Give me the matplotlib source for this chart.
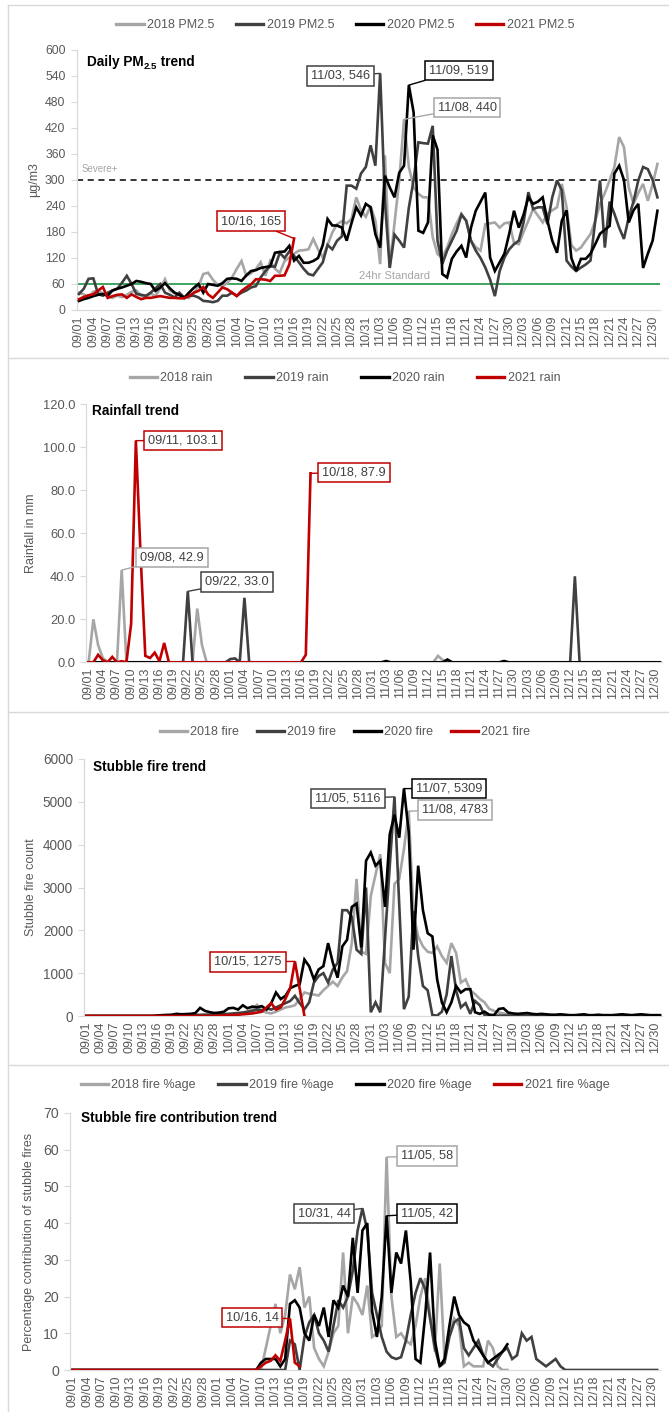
import matplotlib
matplotlib.use('Agg')
import matplotlib.pyplot as plt
from matplotlib import font_manager as fm
from matplotlib.lines import Line2D
import pandas as pd

# ---------------- categories ----------------
dates = [d.strftime('%m/%d') for d in pd.date_range('2021-09-01', '2021-12-31')]
tick_idx = list(range(0, 122, 3))
years = ['2018', '2019', '2020', '2021']

# ---------------- PM2.5 (ug/m3) ----------------
pm_2018 = [40, 36, 30, 42, 45, 38, 32, 28, 33, 30,
           35, 42, 45, 33, 30, 38, 32, 50, 71, 45,
           38, 33, 30, 28, 38, 55, 83, 86, 70, 58,
           55, 62, 75, 95, 113, 79, 85, 94, 110, 79,
           113, 95, 86, 113, 121, 130, 137, 138, 140, 164,
           140, 121, 150, 179, 198, 205, 200, 210, 260, 230,
           215, 240, 206, 106, 357, 98, 200, 300, 440, 330,
           283, 268, 260, 260, 168, 129, 121, 144, 175, 200,
           222, 206, 160, 145, 137, 198, 200, 202, 190, 200,
           202, 155, 152, 180, 206, 233, 218, 202, 222, 230,
           237, 291, 237, 150, 137, 144, 160, 175, 206, 245,
           270, 299, 330, 399, 376, 283, 245, 270, 291, 252,
           290, 337]
pm_2019 = [37, 49, 72, 73, 37, 33, 40, 45, 49, 63,
           79, 60, 37, 35, 33, 40, 50, 60, 40, 35,
           29, 40, 29, 33, 33, 29, 21, 20, 18, 21,
           33, 33, 40, 33, 40, 45, 52, 55, 75, 90,
           101, 100, 132, 120, 135, 125, 110, 95, 83, 80,
           95, 110, 150, 140, 160, 170, 287, 287, 280, 315,
           330, 380, 333, 546, 250, 97, 174, 160, 144, 236,
           300, 387, 385, 384, 425, 160, 106, 137, 160, 183,
           220, 206, 160, 137, 120, 98, 70, 32, 90, 121,
           140, 152, 160, 202, 272, 233, 237, 237, 198, 260,
           299, 276, 114, 100, 90, 98, 105, 114, 206, 299,
           144, 250, 222, 190, 164, 214, 250, 299, 330, 325,
           300, 260]
pm_2020 = [21, 25, 28, 32, 35, 37, 33, 45, 49, 52,
           56, 60, 67, 65, 62, 60, 44, 52, 62, 50,
           40, 35, 28, 40, 51, 60, 40, 60, 58, 56,
           62, 72, 73, 72, 67, 80, 90, 92, 97, 99,
           101, 132, 134, 135, 148, 114, 125, 109, 109, 113,
           120, 150, 210, 195, 195, 190, 160, 200, 237, 218,
           245, 237, 175, 144, 310, 283, 260, 317, 333, 519,
           456, 183, 178, 202, 403, 370, 83, 75, 118, 135,
           148, 121, 190, 229, 250, 271, 121, 90, 110, 130,
           176, 229, 190, 220, 260, 245, 250, 260, 206, 160,
           132, 206, 230, 120, 90, 118, 118, 130, 152, 176,
           185, 194, 315, 333, 300, 202, 230, 245, 97, 130,
           160, 229]
pm_2021 = [25, 30, 34, 36, 45, 53, 28, 32, 35, 36,
           28, 36, 30, 25, 28, 28, 30, 32, 30, 28,
           28, 27, 27, 32, 40, 44, 53, 36, 28, 40,
           52, 48, 40, 32, 44, 52, 59, 71, 71, 70,
           67, 79, 79, 80, 105, 165]

# ---------------- Rainfall (mm) ----------------
rain_2018 = [0, 20, 8, 2, 0, 0, 0, 42.9, 0, 0,
             0, 0, 0, 0, 0, 0, 0, 0, 0, 0,
             0, 0, 0, 25, 8, 0, 0, 0, 0, 0,
             0, 0, 0, 0, 0, 0, 0, 0, 0, 0,
             0, 0, 0, 0, 0, 0, 0, 0, 0, 0,
             0, 0, 0, 0, 0, 0, 0, 0, 0, 0,
             0, 0, 0, 0, 0, 0, 0, 0, 0, 0,
             0, 0, 0, 0, 3, 1, 0, 0, 0, 0,
             0, 0, 0, 0, 0, 0, 0, 0, 0, 0,
             0, 0, 0, 0, 0, 0, 0, 0, 0, 0,
             0, 0, 0, 0, 0, 0, 0, 0, 0, 0,
             0, 0, 0, 0, 0, 0, 0, 0, 0, 0,
             0, 0]
rain_2019 = [0, 0, 0, 0, 0, 0, 0, 0, 0, 0,
             0, 0, 0, 0, 0, 0, 0, 0, 0, 0,
             0, 33.0, 0, 0, 0, 0, 0, 0, 0, 0,
             1.5, 1.8, 0, 30, 0, 0, 0, 0, 0, 0,
             0, 0, 0, 0, 0, 0, 0, 0, 0, 0,
             0, 0, 0, 0, 0, 0, 0, 0, 0, 0,
             0, 0, 0, 0, 0, 0, 0, 0, 0, 0,
             0, 0, 0, 0, 0, 0, 0, 0, 0, 0,
             0, 0, 0, 0, 0, 0, 0, 0, 0, 0,
             0, 0, 0, 0, 0, 0, 0, 0, 0, 0,
             0, 0, 0, 40, 0, 0, 0, 0, 0, 0,
             0, 0, 0, 0, 0, 0, 0, 0, 0, 0,
             0, 0]
rain_2020 = [0, 0, 0, 0, 0, 0, 0, 0, 0, 0,
             0, 0, 0, 0, 0, 0, 0, 0, 0, 0,
             0, 0, 0, 0, 0, 0, 0, 0, 0, 0,
             0, 0, 0, 0, 0, 0, 0, 0, 0, 0,
             0, 0, 0, 0, 0, 0, 0, 0, 0, 0,
             0, 0, 0, 0, 0, 0, 0, 0, 0, 0,
             0, 0, 0, 0.6, 0, 0, 0, 0, 0, 0,
             0, 0, 0, 0, 0, 0, 1.3, 0, 0, 0,
             0, 0, 0, 0, 0, 0, 0, 0, 0.6, 0,
             0, 0, 0, 0, 0, 0, 0, 0, 0, 0,
             0, 0, 0, 0, 0, 0, 0, 0, 0, 0,
             0, 0, 0, 0, 0, 0, 0, 0, 0, 0,
             0, 0]
rain_2021 = [0, 0, 3.5, 1, 0, 2.5, 0, 0.5, 0, 18,
             103.1, 50, 3, 2, 4.5, 0.5, 9, 0, 0, 0,
             0, 0, 0, 0, 0, 0, 0, 0, 0, 0,
             0, 0, 0, 0, 0, 0, 0, 0, 0, 0,
             0, 0, 0, 0, 0, 0, 3.5, 87.9]

# ---------------- Stubble fire count ----------------
fire_2018 = [0, 0, 0, 0, 0, 0, 0, 0, 0, 0,
             0, 0, 0, 0, 0, 5, 5, 5, 10, 10,
             10, 15, 15, 20, 20, 25, 25, 30, 30, 35,
             40, 50, 60, 80, 100, 150, 260, 120, 80, 60,
             100, 150, 200, 220, 250, 400, 550, 520, 500, 480,
             600, 700, 800, 700, 900, 1050, 1700, 3200, 1500, 1450,
             2800, 3300, 3778, 1240, 1000, 3086, 3200, 3900, 4783, 2400,
             1856, 1625, 1500, 1471, 1625, 1400, 1240, 1700, 1471, 779,
             855, 600, 510, 400, 318, 164, 120, 80, 60, 40,
             40, 30, 30, 25, 25, 20, 20, 20, 15, 15,
             15, 15, 10, 10, 10, 10, 10, 10, 10, 10,
             10, 10, 10, 10, 10, 10, 10, 10, 10, 10,
             10, 10]
fire_2019 = [0, 0, 0, 0, 0, 0, 0, 0, 0, 0,
             0, 0, 0, 0, 0, 5, 5, 10, 10, 15,
             15, 20, 20, 25, 25, 30, 30, 35, 40, 45,
             50, 60, 70, 80, 100, 120, 150, 130, 180, 150,
             200, 250, 300, 350, 470, 300, 160, 318, 779, 932,
             1000, 780, 1086, 1240, 2470, 2470, 2317, 1548, 1450, 3000,
             87, 318, 87, 1800, 3500, 5116, 2600, 160, 450, 2450,
             1400, 700, 600, 20, 10, 100, 500, 1400, 600, 200,
             300, 50, 350, 250, 20, 10, 10, 10, 10, 10,
             10, 10, 10, 10, 10, 10, 10, 10, 10, 10,
             10, 10, 10, 10, 10, 10, 10, 10, 10, 10,
             10, 10, 10, 10, 10, 10, 10, 10, 10, 10,
             10, 10]
fire_2020 = [0, 0, 0, 0, 0, 0, 0, 0, 0, 0,
             0, 0, 0, 0, 0, 10, 20, 25, 30, 50,
             40, 45, 50, 70, 190, 120, 90, 70, 80, 100,
             180, 190, 150, 250, 180, 220, 202, 230, 150, 300,
             548, 395, 470, 650, 702, 740, 1317, 1163, 855, 1086,
             1163, 1702, 1240, 894, 1625, 1779, 2547, 2624, 1600, 3624,
             3816, 3509, 3624, 2547, 4239, 4700, 4163, 5309, 4300, 1548,
             3509, 2470, 1932, 1856, 855, 318, 87, 318, 702, 548,
             625, 625, 87, 50, 100, 30, 20, 164, 180, 80,
             60, 50, 60, 70, 50, 40, 50, 40, 30, 30,
             40, 30, 20, 20, 30, 40, 20, 20, 30, 20,
             20, 20, 30, 40, 30, 20, 30, 40, 30, 20,
             20, 20]
fire_2021 = [0, 0, 0, 0, 0, 0, 0, 0, 0, 0,
             0, 0, 0, 0, 0, 0, 0, 0, 0, 0,
             0, 0, 0, 0, 0, 0, 0, 5, 10, 15,
             20, 25, 30, 40, 50, 60, 80, 100, 200, 300,
             150, 200, 400, 650, 1275, 640, 0]

# ---------------- Stubble fire contribution (%) ----------------
pct_2018 = [0, 0, 0, 0, 0, 0, 0, 0, 0, 0,
            0, 0, 0, 0, 0, 0, 0, 0, 0, 0,
            0, 0, 0, 0, 0, 0, 0, 0, 0, 0,
            0, 0, 0, 0, 0, 0, 0, 0, 0, 0,
            6, 12, 18, 10, 15, 26, 22, 28, 17, 20,
            6, 3, 1, 5, 10, 12, 32, 10, 20, 18,
            15, 23, 9, 10, 12, 58, 20, 9, 10, 8,
            7, 12, 20, 25, 15, 5, 29, 3, 10, 14,
            12, 1, 2, 1, 1, 1, 8, 6, 1, 0,
            0]
pct_2019 = [0, 0, 0, 0, 0, 0, 0, 0, 0, 0,
            0, 0, 0, 0, 0, 0, 0, 0, 0, 0,
            0, 0, 0, 0, 0, 0, 0, 0, 0, 0,
            0, 0, 0, 0, 0, 0, 0, 0, 0, 0,
            0, 0, 0, 0, 0, 8, 7, 0, 9, 13,
            15, 10, 8, 5, 12, 19, 17, 20, 27, 38,
            44, 38, 21, 15, 9, 5, 3.5, 3, 3.5, 8,
            15, 21, 25, 22, 14, 6, 1, 2, 9, 13,
            14, 6, 4, 6, 8, 4, 2, 1, 3, 5,
            6, 3, 4, 10, 8, 9, 3, 2, 1, 2,
            3, 1, 0, 0, 0, 0, 0, 0, 0, 0,
            0, 0, 0, 0, 0, 0, 0, 0, 0, 0,
            0, 0]
pct_2020 = [0, 0, 0, 0, 0, 0, 0, 0, 0, 0,
            0, 0, 0, 0, 0, 0, 0, 0, 0, 0,
            0, 0, 0, 0, 0, 0, 0, 0, 0, 0,
            0, 0, 0, 0, 0, 0, 0, 0, 0, 2,
            3, 3, 3, 1, 3, 18, 19, 17, 10, 8,
            15, 12, 17, 9, 19, 17, 23, 20, 36, 21,
            38, 40, 16, 9, 20, 42, 21, 32, 29, 38,
            24, 3, 2, 15, 32, 8, 1, 3, 12, 20,
            15, 13, 12, 8, 6, 4, 2, 3, 4, 5,
            7]
pct_2021 = [0, 0, 0, 0, 0, 0, 0, 0, 0, 0,
            0, 0, 0, 0, 0, 0, 0, 0, 0, 0,
            0, 0, 0, 0, 0, 0, 0, 0, 0, 0,
            0, 0, 0, 0, 0, 0, 0, 0, 0, 1,
            2, 2.5, 4, 2.5, 8, 14, 2, 1]

# ---------------- style ----------------
colors = {'2018': '#A6A6A6', '2019': '#404040', '2020': '#000000', '2021': '#C00000'}
W, H = 669, 1412


def pick_font(names):
    for n in names:
        try:
            fm.findfont(fm.FontProperties(family=n), fallback_to_default=False)
            return n
        except Exception:
            pass
    return 'DejaVu Sans'


FONT = pick_font(['Liberation Sans', 'Arial'])
plt.rcParams['font.family'] = [FONT, 'DejaVu Sans']

fig = plt.figure(figsize=(W / 100, H / 100), dpi=100)
fig.patch.set_facecolor('white')


def rect(l, r, t, b):
    return [l / W, 1 - b / H, (r - l) / W, (b - t) / H]


panels = [
    dict(series={'2018': pm_2018, '2019': pm_2019, '2020': pm_2020, '2021': pm_2021},
         suffix='PM2.5', box=(76.6, 659.8, 50, 310), ymax=600, yticks=list(range(0, 601, 60)),
         yfmt='{:.0f}', yfs=8.8, ylabel='µg/m3', ylabel_x=34, legend_y=25, colsp=1.75,
         title_xy=(87, 62), vfmt='{:.0f}',
         notes=[('2019', 63, (340.5, 76)), ('2020', 69, (459, 70.5)),
                ('2018', 68, (467, 107.5)), ('2021', 45, (251, 221))]),
    dict(series={'2018': rain_2018, '2019': rain_2019, '2020': rain_2020, '2021': rain_2021},
         suffix='rain', box=(86.3, 662.2, 404.3, 662.3), ymax=120, yticks=list(range(0, 121, 20)),
         yfmt='{:.1f}', yfs=9.3, ylabel='Rainfall in mm', ylabel_x=31, legend_y=378, colsp=2.6,
         title='Rainfall trend', title_xy=(92, 411), vfmt='{:.1f}',
         notes=[('2021', 10, (183, 440.5)), ('2021', 47, (354, 472.5)),
                ('2018', 7, (172, 557.5)), ('2019', 21, (237, 582))]),
    dict(series={'2018': fire_2018, '2019': fire_2019, '2020': fire_2020, '2021': fire_2021},
         suffix='fire', box=(84, 662.3, 759, 1016), ymax=6000, yticks=list(range(0, 6001, 1000)),
         yfmt='{:.0f}', yfs=9.8, ylabel='Stubble fire count', ylabel_x=31, legend_y=732, colsp=1.4,
         title='Stubble fire trend', title_xy=(93, 767), vfmt='{:.0f}',
         notes=[('2019', 65, (348, 798.5)), ('2020', 67, (449, 788.5)),
                ('2018', 68, (455, 810)), ('2021', 44, (248, 962))]),
    dict(series={'2018': pct_2018, '2019': pct_2019, '2020': pct_2020, '2021': pct_2021},
         suffix='fire %age', box=(70.2, 659.5, 1113, 1370), ymax=70, yticks=list(range(0, 71, 10)),
         yfmt='{:.0f}', yfs=10.2, ylabel='Percentage contribution of stubble fires', ylabel_x=29,
         legend_y=1085, colsp=1.8, title='Stubble fire contribution trend', title_xy=(81, 1118),
         vfmt='{:.0f}',
         notes=[('2018', 65, (427, 1156)), ('2019', 60, (324, 1213.5)),
                ('2020', 65, (427, 1213.5)), ('2021', 45, (252, 1317.5))]),
]

TICK_COLOR = '#595959'
AXIS_COLOR = '#D9D9D9'

for p in panels:
    ax = fig.add_axes(rect(*p['box']))
    handles = []
    for y in years:
        vals = p['series'][y]
        ax.plot(range(len(vals)), vals, color=colors[y], lw=1.9,
                solid_joinstyle='miter', zorder=3 + years.index(y))
        handles.append(Line2D([0], [0], color=colors[y], lw=2.4))
    ax.set_xlim(-0.5, 121.5)
    ax.set_ylim(0, p['ymax'])
    ax.set_xticks(tick_idx)
    ax.set_xticklabels([dates[i] for i in tick_idx], rotation=90, fontsize=9, color=TICK_COLOR)
    ax.set_yticks(p['yticks'])
    ax.set_yticklabels([p['yfmt'].format(v) for v in p['yticks']], fontsize=p['yfs'],
                       color=TICK_COLOR)
    for s in ('top', 'right'):
        ax.spines[s].set_visible(False)
    for s in ('left', 'bottom'):
        ax.spines[s].set_color(AXIS_COLOR)
        ax.spines[s].set_linewidth(0.9)
    ax.tick_params(axis='y', length=4, color=AXIS_COLOR, pad=4)
    ax.tick_params(axis='x', length=0, pad=4)
    ax.patch.set_alpha(0)

    # legend
    fig.legend(handles, [f'{y} {p["suffix"]}' for y in years], loc='center',
               bbox_to_anchor=(345 / W, 1 - p['legend_y'] / H), ncol=4, frameon=False,
               fontsize=9, handlelength=2.2, handletextpad=0.25, columnspacing=p['colsp'],
               labelcolor=TICK_COLOR)

    # y label
    cy = (p['box'][2] + p['box'][3]) / 2
    fig.text(p['ylabel_x'] / W, 1 - cy / H, p['ylabel'], rotation=90, ha='center', va='center',
             fontsize=9, color=TICK_COLOR)

    # annotations
    for y, i, (bx, by) in p['notes']:
        v = p['series'][y][i]
        ax.annotate(f'{dates[i]}, {p["vfmt"].format(v)}', xy=(i, v),
                    xytext=(bx, H - by), textcoords='figure pixels',
                    ha='center', va='center', fontsize=9.2, color='#404040', zorder=10,
                    bbox=dict(boxstyle='square,pad=0.3', fc='white', ec=colors[y], lw=1.1),
                    arrowprops=dict(arrowstyle='-', color=colors[y], lw=1.0,
                                    shrinkA=0, shrinkB=0))
    p['ax'] = ax

# panel-1 reference lines
ax1 = panels[0]['ax']
ax1.axhline(300, color='black', lw=1.1, ls=(0, (4, 3)), zorder=2)
ax1.axhline(60, color='#2E9E55', lw=1.3, zorder=2)
ax1.text(0.008, 313, 'Severe+', transform=ax1.get_yaxis_transform(), fontsize=7,
         color='#A6A6A6', ha='left', va='bottom')
ax1.text(0.545, 66, '24hr Standard', transform=ax1.get_yaxis_transform(), fontsize=8,
         color='#A6A6A6', ha='center', va='bottom')

# titles
for p in panels[1:]:
    fig.text(p['title_xy'][0] / W, 1 - p['title_xy'][1] / H, p['title'], fontsize=9.8,
             fontweight='bold', ha='left', va='center', color='black')

# Daily PM2.5 title with subscript
fig.canvas.draw()
renderer = fig.canvas.get_renderer()
tx, ty = panels[0]['title_xy']
t1 = fig.text(tx / W, 1 - ty / H, 'Daily PM', fontsize=9.8, fontweight='bold',
              ha='left', va='center', color='black')
bb = t1.get_window_extent(renderer)
t2 = fig.text(bb.x1 / W, (1 - ty / H) - 4 / H, '2.5', fontsize=6.8, fontweight='bold',
              ha='left', va='center', color='black')
bb2 = t2.get_window_extent(renderer)
fig.text(bb2.x1 / W, 1 - ty / H, ' trend', fontsize=9.8, fontweight='bold',
         ha='left', va='center', color='black')

# panel borders
for yy in (5, 358, 712, 1065):
    fig.add_artist(Line2D([8 / W, 1], [1 - yy / H, 1 - yy / H], color=AXIS_COLOR, lw=1.0))
fig.add_artist(Line2D([8 / W, 8 / W], [1 - 5 / H, 0], color=AXIS_COLOR, lw=1.0))

fig.savefig('out.png', dpi=100, facecolor='white')
